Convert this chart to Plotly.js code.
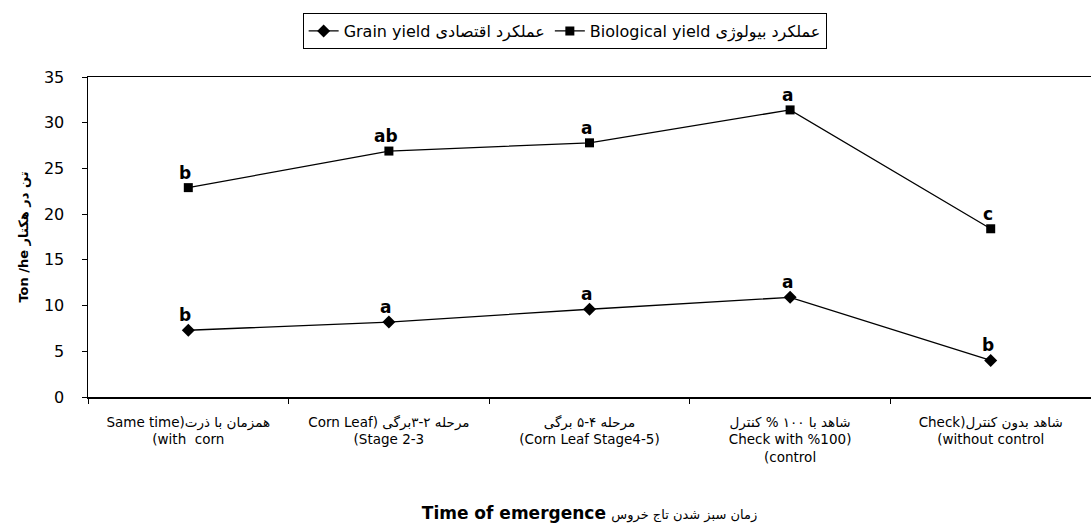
<!DOCTYPE html>
<html>
<head>
<meta charset="utf-8">
<script src="https://cdn.plot.ly/plotly-3.0.1.min.js"></script>
<style>html,body{margin:0;padding:0;background:#fff;}#chart{width:1091px;height:523px;}</style>
</head>
<body>
<div id="chart"></div>
<script>
const categories = [
  "Same time)همزمان با ذرت<br>(with  corn",
  "Corn Leaf) مرحله ۲-۳برگی<br>(Stage 2-3",
  "مرحله ۴-۵ برگی<br>(Corn Leaf Stage4-5)",
  "شاهد با ۱۰۰ % کنترل<br>Check with %100)<br>(control",
  "Check)شاهد بدون کنترل<br>(without control"
];
const grainYield = [7.3, 8.2, 9.6, 10.9, 4.0];
const biologicalYield = [22.9, 26.9, 27.8, 31.4, 18.4];
const grainLetters = ["b", "a", "a", "a", "b"];
const biologicalLetters = ["b", "ab", "a", "a", "c"];
const seriesNames = ["Grain yield عملکرد اقتصادی", "Biological yield عملکرد بیولوژی"];

const FONT = "DejaVu Sans, Liberation Sans, Arial, sans-serif";

const traces = [
  {
    x: categories, y: grainYield, name: seriesNames[0], type: "scatter", mode: "lines+markers",
    line: {color: "#000", width: 1.3},
    marker: {symbol: "diamond", size: 10, color: "#000"}
  },
  {
    x: categories, y: biologicalYield, name: seriesNames[1], type: "scatter", mode: "lines+markers",
    line: {color: "#000", width: 1.3},
    marker: {symbol: "square", size: 9, color: "#000"}
  }
];

const annotations = [];
function addLetters(vals, letters) {
  vals.forEach((v, i) => {
    annotations.push({
      x: categories[i], y: v, xref: "x", yref: "y", text: letters[i],
      showarrow: false, yanchor: "bottom", yshift: 3, xshift: -3,
      font: {family: FONT, size: 17, color: "#000", weight: "bold"}
    });
  });
}
addLetters(grainYield, grainLetters);
addLetters(biologicalYield, biologicalLetters);

const layout = {
  width: 1091, height: 523,
  margin: {l: 88, r: 0, t: 77, b: 126},
  paper_bgcolor: "#fff", plot_bgcolor: "#fff",
  font: {family: FONT, color: "#000"},
  showlegend: true,
  legend: {
    orientation: "h", x: 0.214, xanchor: "left", y: 1.2, yanchor: "top",
    bordercolor: "#000", borderwidth: 1, bgcolor: "#fff",
    font: {family: FONT, size: 16, color: "#000"},
    tracegroupgap: 0, itemwidth: 30
  },
  xaxis: {
    type: "category", range: [-0.5, 4.5],
    showline: true, linecolor: "#000", linewidth: 1.5, mirror: true,
    ticks: "outside", tickson: "boundaries", ticklen: 5, tickcolor: "#000",
    showgrid: false, zeroline: false,
    tickfont: {family: FONT, size: 13.5, color: "#000"},
    ticklabelstandoff: 12,
    title: {text: "<b>Time of emergence</b> <span style='font-size:13px'>زمان سبز شدن تاج خروس</span>", font: {family: FONT, size: 17, color: "#000"}, standoff: 48},
    automargin: false
  },
  yaxis: {
    range: [0, 35], dtick: 5, tick0: 0,
    showline: true, linecolor: "#000", linewidth: 1.5,
    ticks: "outside", ticklen: 5, tickcolor: "#000",
    showgrid: false, zeroline: false,
    tickfont: {family: FONT, size: 16, color: "#000"},
    ticklabelstandoff: 14,
    title: {text: "<b>Ton /he تن در هکتار</b>", font: {family: FONT, size: 13, color: "#000"}, standoff: 12},
    automargin: false
  },
  annotations: annotations
};

Plotly.newPlot("chart", traces, layout, {staticPlot: true, displayModeBar: false});
</script>
</body>
</html>
